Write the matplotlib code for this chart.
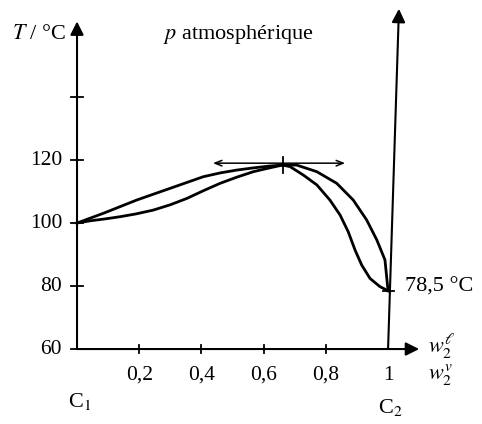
import matplotlib.pyplot as plt

# composition (w2) et temperatures
x_liq = [0, 0.042, 0.09, 0.138, 0.19, 0.245, 0.3, 0.353, 0.405, 0.46, 0.515, 0.567, 0.61, 0.642, 0.661,
         0.685, 0.728, 0.771, 0.813, 0.846, 0.872, 0.894, 0.915, 0.942, 0.974, 1.0]
T_liq = [100, 100.7, 101.3, 102, 102.9, 104.1, 105.8, 107.8, 110.2, 112.6, 114.6, 116.3, 117.3, 118.0, 118.4,
         117.9, 115.2, 112.1, 107.3, 102.5, 97.2, 91.4, 86.7, 82.4, 79.8, 78.5]

x_vap = [0, 0.085, 0.192, 0.299, 0.406, 0.46, 0.513, 0.567, 0.62, 0.661,
         0.706, 0.771, 0.835, 0.888, 0.931, 0.964, 0.99, 1.0]
T_vap = [100, 103.1, 107.3, 111, 114.7, 115.9, 116.8, 117.5, 118.1, 118.4,
         118.4, 116.3, 112.6, 107.3, 101, 94.6, 88.3, 78.5]

x_azeo = 0.661
T_azeo = 118.6

xticks = [0.2, 0.4, 0.6, 0.8, 1.0]
xlabels = ['0,2', '0,4', '0,6', '0,8', '1']
yticks = [60, 80, 100, 120, 140]
ylabels = ['60', '80', '100', '120', '']

plt.rcParams['font.family'] = ['Liberation Serif', 'DejaVu Serif']
plt.rcParams['mathtext.fontset'] = 'stix'

fig = plt.figure(figsize=(4.82, 4.24), dpi=100)
ax = fig.add_axes([0, 0, 1, 1])
ax.set_xlim(-0.2476, 1.302)
ax.set_ylim(36.2, 170.8)
ax.axis('off')

lw = 2.0
ax.plot(x_liq, T_liq, color='black', lw=lw, solid_joinstyle='round')
ax.plot(x_vap, T_vap, color='black', lw=lw, solid_joinstyle='round')

# axes avec fleches
arrow = dict(arrowstyle='-|>', color='black', lw=1.5, mutation_scale=20, shrinkA=0, shrinkB=0)
ax.annotate('', xy=(0, 164), xytext=(0, 60), arrowprops=arrow)
ax.annotate('', xy=(1.1, 60), xytext=(0, 60), arrowprops=arrow)
ax.annotate('', xy=(1.035, 168), xytext=(1.0, 60), arrowprops=arrow)

# graduations
for t, lab in zip(yticks, ylabels):
    ax.plot([-0.02, 0.02], [t, t], color='black', lw=1.3)
    ax.text(-0.048, t, lab, ha='right', va='center', fontsize=15.5)
for v in xticks[:-1]:
    ax.plot([v, v], [58.8, 61.2], color='black', lw=1.3)
for v, lab in zip(xticks, xlabels):
    ax.text(v, 51.7, lab, ha='center', va='center', fontsize=15.5)
ax.plot([0.985, 1.02], [78.5, 78.5], color='black', lw=1.3)

# tangente horizontale a l'azeotrope
ax.annotate('', xy=(0.437, 119), xytext=(0.862, 119),
            arrowprops=dict(arrowstyle='<->, head_length=0.5, head_width=0.2', color='black',
                            lw=1.1, shrinkA=0, shrinkB=0))
ax.plot([x_azeo, x_azeo], [T_azeo - 2.8, T_azeo + 2.5], color='black', lw=1.3)

ax.text(-0.21, 160, r'$T$ / °C', ha='left', va='center', fontsize=16)
ax.text(0.277, 160, r'$p$ atmosphérique', ha='left', va='center', fontsize=16)
ax.text(1.055, 79.7, '78,5 °C', ha='left', va='center', fontsize=16)
ax.text(1.13, 61, r'$w_2^{\ell}$', ha='left', va='center', fontsize=16)
ax.text(1.13, 52, r'$w_2^{v}$', ha='left', va='center', fontsize=16)
ax.text(0.01, 43.5, r'C$_1$', ha='center', va='center', fontsize=16)
ax.text(1.006, 41.5, r'C$_2$', ha='center', va='center', fontsize=16)

fig.savefig('out.png', dpi=100)
